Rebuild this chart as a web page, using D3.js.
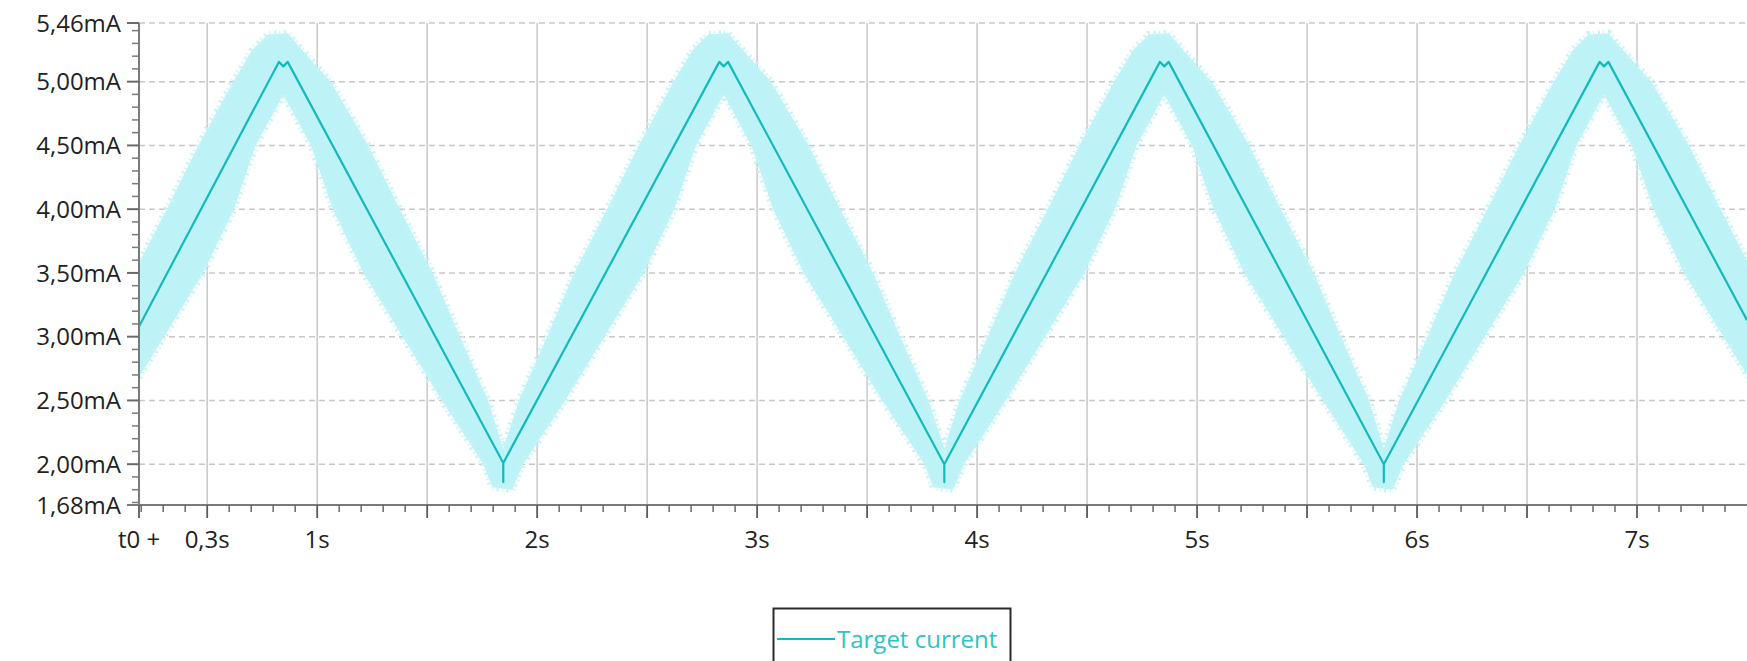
<!DOCTYPE html>
<html>
<head>
<meta charset="utf-8">
<script src="https://cdn.jsdelivr.net/npm/d3@7"></script>
<style>
  body { margin: 0; background: #fff; }
  svg { display: block; }
</style>
</head>
<body>
<svg width="1747" height="661"></svg>
<script>
// axis ticks
var yTicks = [5.46, 5.00, 4.50, 4.00, 3.50, 3.00, 2.50, 2.00, 1.68];
var yTickLabels = ["5,46mA", "5,00mA", "4,50mA", "4,00mA", "3,50mA", "3,00mA", "2,50mA", "2,00mA", "1,68mA"];
var yMinorTicks = [5.4, 5.3, 5.2, 5.1, 4.9, 4.8, 4.7, 4.6, 4.4, 4.3, 4.2, 4.1, 3.9, 3.8, 3.7, 3.6, 3.4, 3.3, 3.2, 3.1,
  2.9, 2.8, 2.7, 2.6, 2.4, 2.3, 2.2, 2.1, 1.9, 1.8, 1.7];
var xTicks = [0.19, 0.5, 1, 2, 3, 4, 5, 6, 7];
var xTickLabels = ["t0 +", "0,3s", "1s", "2s", "3s", "4s", "5s", "6s", "7s"];
var xGrid = [0.5, 1, 1.5, 2, 2.5, 3, 3.5, 4, 4.5, 5, 5.5, 6, 6.5, 7];
var xMinorTicks = [0.2, 0.3, 0.4, 0.6, 0.7, 0.8, 0.9, 1.1, 1.2, 1.3, 1.4, 1.6, 1.7, 1.8, 1.9, 2.1, 2.2, 2.3, 2.4,
  2.6, 2.7, 2.8, 2.9, 3.1, 3.2, 3.3, 3.4, 3.6, 3.7, 3.8, 3.9, 4.1, 4.2, 4.3, 4.4, 4.6, 4.7, 4.8, 4.9,
  5.1, 5.2, 5.3, 5.4, 5.6, 5.7, 5.8, 5.9, 6.1, 6.2, 6.3, 6.4, 6.6, 6.7, 6.8, 6.9, 7.1, 7.2, 7.3, 7.4];

// target current line (s, mA)
var lineTime = [0.19, 0.826, 0.846, 0.866, 1.846, 1.846, 1.846, 2.828, 2.848, 2.868, 3.851, 3.851, 3.851,
  4.831, 4.851, 4.871, 5.849, 5.849, 5.849, 6.83, 6.85, 6.87, 7.5];
var lineCurrent = [3.08, 5.155, 5.12, 5.155, 2.01, 1.86, 2.01, 5.155, 5.12, 5.155, 2.0, 1.86, 2.0,
  5.155, 5.12, 5.155, 2.0, 1.86, 2.0, 5.155, 5.12, 5.155, 3.13];

// spread band, upper edge (s, mA)
var bandHiTime = [-0.085, 0.043, 0.167, 0.316, 0.460, 0.618, 0.706, 0.776, 0.866, 0.946, 1.061, 1.232, 1.376, 1.525, 1.649, 1.777, 1.846,
  1.917, 2.045, 2.169, 2.318, 2.462, 2.620, 2.708, 2.778, 2.868, 2.948, 3.063, 3.234, 3.378, 3.527, 3.651, 3.779, 3.851,
  3.920, 4.048, 4.172, 4.321, 4.465, 4.623, 4.711, 4.781, 4.871, 4.951, 5.066, 5.237, 5.381, 5.530, 5.654, 5.782, 5.849,
  5.919, 6.047, 6.171, 6.320, 6.464, 6.622, 6.710, 6.780, 6.870, 6.950, 7.065, 7.236, 7.380, 7.529, 7.653];
var bandHiCurrent = [2.5, 3.0, 3.5, 4.0, 4.5, 5.0, 5.25, 5.37, 5.38, 5.22, 5.0, 4.5, 4.0, 3.5, 3.0, 2.5, 2.12,
  2.5, 3.0, 3.5, 4.0, 4.5, 5.0, 5.25, 5.37, 5.38, 5.22, 5.0, 4.5, 4.0, 3.5, 3.0, 2.5, 2.12,
  2.5, 3.0, 3.5, 4.0, 4.5, 5.0, 5.25, 5.37, 5.38, 5.22, 5.0, 4.5, 4.0, 3.5, 3.0, 2.5, 2.12,
  2.5, 3.0, 3.5, 4.0, 4.5, 5.0, 5.25, 5.37, 5.38, 5.22, 5.0, 4.5, 4.0, 3.5, 3.0];

// spread band, lower edge (s, mA)
var bandLoTime = [-0.064, 0.125, 0.303, 0.482, 0.621, 0.720, 0.846, 0.972, 1.071, 1.210, 1.389, 1.567, 1.756, 1.796, 1.886, 1.936,
  2.127, 2.305, 2.484, 2.623, 2.722, 2.848, 2.974, 3.073, 3.212, 3.391, 3.569, 3.761, 3.801, 3.891, 3.941,
  4.130, 4.308, 4.487, 4.626, 4.725, 4.851, 4.977, 5.076, 5.215, 5.394, 5.572, 5.759, 5.799, 5.889, 5.939,
  6.129, 6.307, 6.486, 6.625, 6.724, 6.850, 6.976, 7.075, 7.214, 7.393, 7.571];
var bandLoCurrent = [2.0, 2.5, 3.0, 3.5, 4.0, 4.5, 4.90, 4.5, 4.0, 3.5, 3.0, 2.5, 2.0, 1.82, 1.80, 2.0,
  2.5, 3.0, 3.5, 4.0, 4.5, 4.90, 4.5, 4.0, 3.5, 3.0, 2.5, 2.0, 1.82, 1.80, 2.0,
  2.5, 3.0, 3.5, 4.0, 4.5, 4.90, 4.5, 4.0, 3.5, 3.0, 2.5, 2.0, 1.82, 1.80, 2.0,
  2.5, 3.0, 3.5, 4.0, 4.5, 4.90, 4.5, 4.0, 3.5, 3.0, 2.5];

var svg = d3.select("svg"),
  plotLeft = 139, plotRight = 1747, plotTop = 23, plotBottom = 505;

var xScale = d3.scaleLinear().domain([0.19, 7.5]).range([plotLeft, plotRight]),
  yScale = d3.scaleLinear().domain([1.68, 5.46]).range([plotBottom, plotTop]);

var font = "'Open Sans', 'Noto Sans', sans-serif";

svg.append("clipPath").attr("id", "plot")
  .append("rect")
  .attr("x", plotLeft).attr("y", plotTop - 8)
  .attr("width", plotRight - plotLeft).attr("height", plotBottom - plotTop + 8);

// horizontal dashed grid
svg.append("g")
  .selectAll("line")
  .data(yTicks.filter(function (d) { return d !== 1.68; }))
  .enter()
  .append("line")
  .attr("x1", plotLeft).attr("x2", plotRight)
  .attr("y1", function (d) { return yScale(d); })
  .attr("y2", function (d) { return yScale(d); })
  .attr("stroke", "#c8c8c8")
  .attr("stroke-width", 1.5)
  .attr("stroke-dasharray", "6,4");

// vertical grid
svg.append("g")
  .selectAll("line")
  .data(xGrid)
  .enter()
  .append("line")
  .attr("x1", function (d) { return xScale(d); })
  .attr("x2", function (d) { return xScale(d); })
  .attr("y1", plotTop).attr("y2", plotBottom)
  .attr("stroke", "#c8c8c8")
  .attr("stroke-width", 1.5);

var plot = svg.append("g").attr("clip-path", "url(#plot)");

// band
var bandPoints = bandHiTime.map(function (t, i) { return [t, bandHiCurrent[i]]; })
  .concat(bandLoTime.map(function (t, i) { return [t, bandLoCurrent[i]]; }).reverse());

var bandPath = d3.line()
  .x(function (d) { return xScale(d[0]); })
  .y(function (d) { return yScale(d[1]); })(bandPoints) + "Z";

plot.append("path")
  .attr("fill", "#bdf3f6")
  .attr("stroke", "none")
  .attr("d", bandPath);

// ragged edge of the band
plot.append("path")
  .attr("fill", "none")
  .attr("stroke", "#c4f4f7")
  .attr("stroke-width", 7)
  .attr("stroke-dasharray", "2,3,1,4")
  .attr("d", bandPath);

// target current
plot.append("path")
  .datum(lineTime.map(function (t, i) { return [t, lineCurrent[i]]; }))
  .attr("fill", "none")
  .attr("stroke", "#14baba")
  .attr("stroke-width", 2.2)
  .attr("stroke-linejoin", "round")
  .attr("d", d3.line()
    .x(function (d) { return xScale(d[0]); })
    .y(function (d) { return yScale(d[1]); })
  );

// Y axis
var yAxis = svg.append("g");
yAxis.append("line")
  .attr("x1", plotLeft).attr("x2", plotLeft)
  .attr("y1", plotTop).attr("y2", plotBottom)
  .attr("stroke", "#7a7a7a").attr("stroke-width", 2);
yAxis.selectAll(".minor")
  .data(yMinorTicks)
  .enter()
  .append("line")
  .attr("x1", plotLeft - 7).attr("x2", plotLeft)
  .attr("y1", function (d) { return yScale(d); })
  .attr("y2", function (d) { return yScale(d); })
  .attr("stroke", "#7a7a7a").attr("stroke-width", 1.5);
yAxis.selectAll(".major")
  .data(yTicks)
  .enter()
  .append("line")
  .attr("x1", plotLeft - 12).attr("x2", plotLeft)
  .attr("y1", function (d) { return yScale(d); })
  .attr("y2", function (d) { return yScale(d); })
  .attr("stroke", "#6a6a6a").attr("stroke-width", 2);
yAxis.selectAll("text")
  .data(yTicks)
  .enter()
  .append("text")
  .attr("x", plotLeft - 18)
  .attr("y", function (d) { return yScale(d); })
  .attr("dy", "0.36em")
  .attr("text-anchor", "end")
  .style("font-family", font)
  .style("font-size", "24px")
  .style("fill", "#222")
  .text(function (d, i) { return yTickLabels[i]; });

// X axis
var xAxis = svg.append("g");
xAxis.append("line")
  .attr("x1", plotLeft - 12).attr("x2", plotRight)
  .attr("y1", plotBottom).attr("y2", plotBottom)
  .attr("stroke", "#7a7a7a").attr("stroke-width", 2);
xAxis.selectAll(".minor")
  .data(xMinorTicks)
  .enter()
  .append("line")
  .attr("x1", function (d) { return xScale(d); })
  .attr("x2", function (d) { return xScale(d); })
  .attr("y1", plotBottom).attr("y2", plotBottom + 7)
  .attr("stroke", "#6a6a6a").attr("stroke-width", 1.5);
xAxis.selectAll(".major")
  .data([0.19].concat(xGrid))
  .enter()
  .append("line")
  .attr("x1", function (d) { return xScale(d); })
  .attr("x2", function (d) { return xScale(d); })
  .attr("y1", plotBottom).attr("y2", plotBottom + 13)
  .attr("stroke", "#5a5a5a").attr("stroke-width", 1.8);
xAxis.selectAll("text")
  .data(xTicks)
  .enter()
  .append("text")
  .attr("x", function (d) { return xScale(d); })
  .attr("y", 548)
  .attr("text-anchor", "middle")
  .style("font-family", font)
  .style("font-size", "24px")
  .style("fill", "#222")
  .text(function (d, i) { return xTickLabels[i]; });

// legend
var legend = svg.append("g");
legend.append("rect")
  .attr("x", 773.5).attr("y", 608.5)
  .attr("width", 237).attr("height", 80)
  .attr("fill", "#fff")
  .attr("stroke", "#2a2a2a").attr("stroke-width", 2);
legend.append("line")
  .attr("x1", 777).attr("x2", 835)
  .attr("y1", 639).attr("y2", 639)
  .attr("stroke", "#14baba").attr("stroke-width", 2);
legend.append("text")
  .attr("x", 837).attr("y", 648)
  .style("font-family", font)
  .style("font-size", "24px")
  .style("fill", "#2ec4c4")
  .text("Target current");
</script>
</body>
</html>
